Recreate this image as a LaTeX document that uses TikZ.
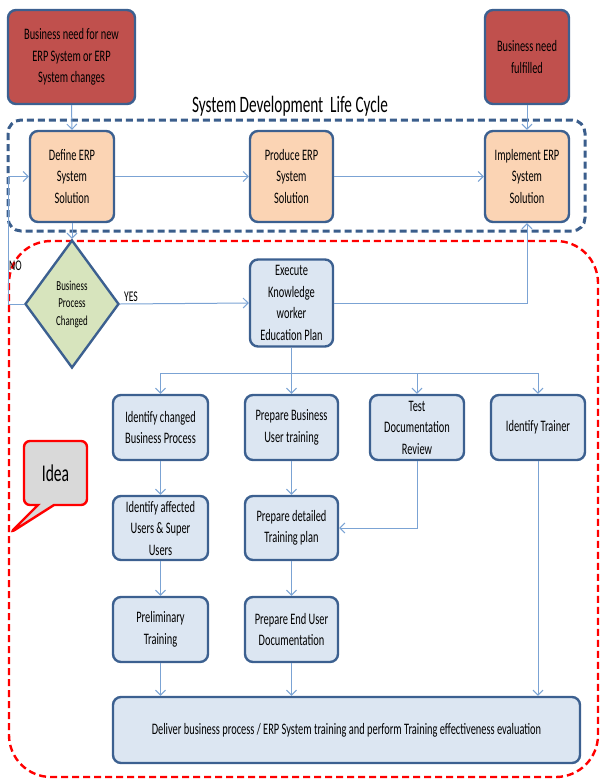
\documentclass[tikz,border=0pt]{standalone}
\usepackage{fontspec}
\setmainfont[FakeStretch=0.65]{Carlito}
\usetikzlibrary{arrows.meta,shapes.geometric,shapes.callouts}
\definecolor{redbox}{HTML}{C0504D}
\definecolor{peach}{HTML}{FBD4B4}
\definecolor{paleblue}{HTML}{DCE6F2}
\definecolor{palegreen}{HTML}{D7E4BD}
\definecolor{edge}{HTML}{3C6090}
\definecolor{conn}{HTML}{7BA3D4}
\definecolor{dashblue}{HTML}{3B5E8C}
\definecolor{ideagray}{HTML}{D9D9D9}
\begin{document}
\begin{tikzpicture}[x=1pt,y=-1pt,
  boxbase/.style={draw=edge, line width=2.4pt, rounded corners=8pt, align=center, inner sep=0pt, font=\fontsize{16}{21.5}\selectfont},
  needbox/.style={boxbase, fill=redbox},
  sdlcbox/.style={boxbase, fill=peach, minimum width=84pt, minimum height=91pt},
  taskbox/.style={boxbase, fill=paleblue},
  decision/.style={diamond, draw=edge, line width=2.4pt, fill=palegreen, align=center, inner sep=0pt, minimum width=94pt, minimum height=128pt, font=\fontsize{13.7}{17.5}\selectfont},
  conn/.style={draw=conn, line width=1pt},
  arr/.style={conn, -{Straight Barb[length=5pt,width=10pt]}},
  lbl/.style={font=\fontsize{14.8}{16}\selectfont, inner sep=0pt}
]
\useasboundingbox (0,0) rectangle (602,779);

% frames
\draw[dashblue, line width=3pt, dash pattern=on 7pt off 4pt, rounded corners=13pt] (8,120) rectangle (585,231);
\draw[red, line width=2.4pt, dash pattern=on 7pt off 4pt, rounded corners=42pt] (9,241) rectangle (598,777);

\node[font=\fontsize{23.5}{26}\selectfont, inner sep=0pt] (title) at (290,106) {System Development\ \ Life Cycle};

% top row
\node[needbox, minimum width=127pt, minimum height=94pt] (need) at (71.5,57) {Business need for new\\ERP System or ERP\\System changes};
\node[needbox, minimum width=84pt, minimum height=94pt] (done) at (527,57) {Business need\\fulfilled};

\node[sdlcbox] (define) at (72,176.5) {Define ERP\\System\\Solution};
\node[sdlcbox, minimum width=83pt] (produce) at (291.5,176.5) {Produce ERP\\System\\Solution};
\node[sdlcbox] (implement) at (527,176.5) {Implement ERP\\System\\Solution};

\node[decision] (bpc) at (72,304) {Business\\Process\\Changed};
\node[taskbox, minimum width=83pt, minimum height=87pt] (exec) at (291.5,303) {Execute\\Knowledge\\worker\\Education Plan};

% row 1
\node[taskbox, minimum width=95pt, minimum height=65pt] (idc) at (160.5,427.5) {Identify changed\\Business Process};
\node[taskbox, minimum width=93pt, minimum height=65pt] (pbu) at (291.5,427.5) {Prepare Business\\User training};
\node[taskbox, minimum width=94pt, minimum height=65pt] (tdr) at (417,427.5) {Test\\Documentation\\Review};
\node[taskbox, minimum width=94pt, minimum height=65pt] (trainer) at (538,427.5) {Identify Trainer};
% row 2
\node[taskbox, minimum width=95pt, minimum height=64pt] (iau) at (160.5,528) {Identify affected\\Users \& Super\\Users};
\node[taskbox, minimum width=93pt, minimum height=64pt] (pdt) at (291.5,528) {Prepare detailed\\Training plan};
% row 3
\node[taskbox, minimum width=95pt, minimum height=65pt] (pre) at (160.5,629.5) {Preliminary\\Training};
\node[taskbox, minimum width=93pt, minimum height=65pt] (peu) at (291.5,629.5) {Prepare End User\\Documentation};
% deliver
\node[taskbox, minimum width=467pt, minimum height=66pt] (deliver) at (346.5,730) {Deliver business process / ERP System training and perform Training effectiveness evaluation};

% callout
\node[rectangle callout, draw=red, line width=2.4pt, fill=ideagray, rounded corners=6pt, minimum width=63pt, minimum height=64pt, inner sep=0pt, callout absolute pointer={(10,533)}, callout pointer width=16pt, font=\fontsize{24}{26}\selectfont] (idea) at (55.5,473) {Idea};

% connectors top
\draw[arr] (need.south) -- (define.north);
\draw[arr] (done.south) -- (implement.north);
\draw[arr] (define.east) -- (produce.west);
\draw[arr] (produce.east) -- (implement.west);
\draw[arr] (define.south) -- (bpc.north);
\coordinate (leftx) at (8,304);
\draw[arr] (bpc.west) -- (leftx) |- (define.west);
\node[lbl, anchor=west] (no) at (9,266) {NO};
\draw[arr] (bpc.east) -- (exec.west);
\node[lbl] (yes) at (131,297) {YES};
\draw[arr] (exec.east) -| (implement.south);

% fan out
\coordinate (fan) at (0,373);
\draw[conn] (exec.south) -- (exec.south |- fan);
\draw[conn] (idc.north |- fan) -- (trainer.north |- fan);
\draw[arr] (idc.north |- fan) -- (idc.north);
\draw[arr] (pbu.north |- fan) -- (pbu.north);
\draw[arr] (tdr.north |- fan) -- (tdr.north);
\draw[arr] (trainer.north |- fan) -- (trainer.north);

% columns
\draw[arr] (idc.south) -- (iau.north);
\draw[arr] (iau.south) -- (pre.north);
\draw[arr] (pre.south) -- (pre.south |- deliver.north);
\draw[arr] (pbu.south) -- (pdt.north);
\draw[arr] (pdt.south) -- (peu.north);
\draw[arr] (peu.south) -- (peu.south |- deliver.north);
\draw[arr] (tdr.south) |- (pdt.east);
\draw[arr] (trainer.south) -- (trainer.south |- deliver.north);
\end{tikzpicture}
\end{document}
